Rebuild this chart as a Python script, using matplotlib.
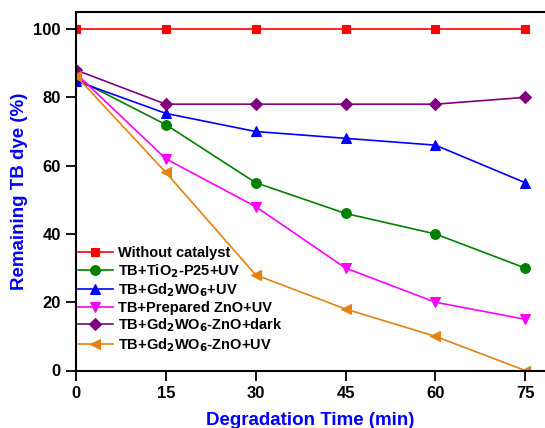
import matplotlib
matplotlib.use("Agg")
import matplotlib.pyplot as plt

plt.rcParams['font.family'] = ['Liberation Sans', 'DejaVu Sans']
plt.rcParams['font.weight'] = 'bold'
plt.rcParams['mathtext.default'] = 'bf'

time = [0, 15, 30, 45, 60, 75]
without_catalyst = [100, 100, 100, 100, 100, 100]
tio2_p25_uv = [85.5, 72, 55, 46, 40, 30]
gd2wo6_uv = [84.8, 75.3, 70, 68, 66, 55]
prepared_zno_uv = [87, 62, 48, 30, 20, 15]
gd2wo6_zno_dark = [88, 78, 78, 78, 78, 80]
gd2wo6_zno_uv = [86.3, 58, 28, 18, 10, 0]

labels = [
    "Without catalyst",
    r"TB+TiO$_2$-P25+UV",
    r"TB+Gd$_2$WO$_6$+UV",
    "TB+Prepared ZnO+UV",
    r"TB+Gd$_2$WO$_6$-ZnO+dark",
    r"TB+Gd$_2$WO$_6$-ZnO+UV",
]
series = [without_catalyst, tio2_p25_uv, gd2wo6_uv, prepared_zno_uv,
          gd2wo6_zno_dark, gd2wo6_zno_uv]
colors = ['#ff0000', '#008000', '#0000ff', '#ff00ff', '#800080', '#e6820e']
markers = ['s', 'o', '^', 'v', 'D', '<']
msizes = [6, 7, 7.5, 7.5, 6.5, 7.5]

fig = plt.figure(figsize=(5.45, 4.28), dpi=100)
ax = fig.add_axes([76/545, 57.5/428, 1 - 76/545, 358.5/428])

for y, lab, c, m, ms in zip(series, labels, colors, markers, msizes):
    ax.plot(time, y, color=c, marker=m, markersize=ms, linewidth=1.2,
            label=lab, markeredgewidth=0.8)

ax.set_xlim(0, 78.3)
ax.set_ylim(0, 105)
ax.set_xticks(time)
ax.set_yticks([0, 20, 40, 60, 80, 100])
ax.tick_params(direction='out', length=7, width=1.3, labelsize=12, pad=4)
for lbl in ax.get_xticklabels() + ax.get_yticklabels():
    lbl.set_fontweight('bold')
ax.spines['right'].set_visible(False)
for s in ['left', 'bottom', 'top']:
    ax.spines[s].set_linewidth(1.5)

ax.set_xlabel("Degradation Time (min)", color='#0000ff', fontsize=13.5,
              fontweight='bold', labelpad=8)
ax.set_ylabel("Remaining TB dye (%)", color='#0000ff', fontsize=13.5,
              fontweight='bold', labelpad=4)

leg = ax.legend(loc='upper left', bbox_to_anchor=(-0.003, 0.355), frameon=False,
                handlelength=2.4, handletextpad=0.35,
                labelspacing=0.12, borderaxespad=0, borderpad=0.2,
                prop={'weight': 'bold', 'size': 10.5})

fig.savefig("out.png", dpi=100)
